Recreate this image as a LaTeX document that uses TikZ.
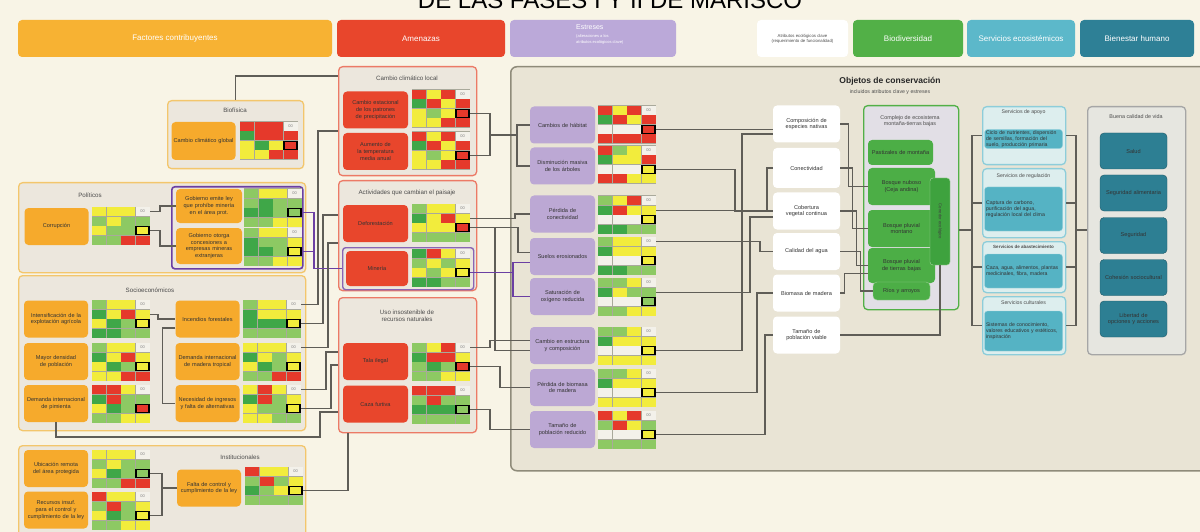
\documentclass[tikz,border=0pt]{standalone}
\usepackage{fontspec}
\setmainfont{Liberation Sans}
\usetikzlibrary{calc}
\hyphenpenalty=10000
\exhyphenpenalty=10000
\definecolor{bg}{HTML}{F8F4E6}
\definecolor{cfO}{HTML}{F7B233}
\definecolor{cfN}{HTML}{F6AA2C}
\definecolor{cfB}{HTML}{F3C66C}
\definecolor{grpF}{HTML}{ECE7DD}
\definecolor{amR}{HTML}{E8462C}
\definecolor{amB}{HTML}{EC7A66}
\definecolor{stL}{HTML}{BBA9D9}
\definecolor{stN}{HTML}{BCA8D4}
\definecolor{panF}{HTML}{E9E4D5}
\definecolor{panB}{HTML}{8F8B7A}
\definecolor{bdG}{HTML}{52B047}
\definecolor{bdN}{HTML}{4CAE46}
\definecolor{bdBar}{HTML}{3EA23E}
\definecolor{bdF}{HTML}{E2DFE6}
\definecolor{esB}{HTML}{5CB8CA}
\definecolor{esN}{HTML}{55B3C4}
\definecolor{esF}{HTML}{DDEEEE}
\definecolor{bhT}{HTML}{2E8096}
\definecolor{bhN}{HTML}{2D7F93}
\definecolor{bhF}{HTML}{E6E6E0}
\definecolor{gR}{HTML}{E5392B}
\definecolor{gY}{HTML}{F2EC3C}
\definecolor{gG}{HTML}{3FA748}
\definecolor{gL}{HTML}{8DC963}
\definecolor{gW}{HTML}{F3F1EA}
\definecolor{gS}{HTML}{A9A99B}
\definecolor{ln}{HTML}{5F5D57}
\definecolor{pu}{HTML}{6B3FA3}
\newcommand\mgrid[4]{%
  \fill[gS] (#2-0.5,#3-0.5) rectangle (#2+58,#3+38);
  \foreach \gc [count=\i from 0] in {#4}{%
    \pgfmathtruncatemacro\cc{mod(\i,4)}%
    \pgfmathtruncatemacro\rr{div(\i,4)}%
    \fill[\gc] ({#2+\cc*14.5},{#3+\rr*9.5}) rectangle ++(14,9);
  }
  \node[font=\fontsize{4}{4}\selectfont, text=gray, inner sep=0] at (#2+50.5,#3+4.5) {00};
  \draw[line width=1.5pt] (#2+44,#3+19.5) rectangle ++(13,8);
  \coordinate (#1-t) at (#2+58,#3+4.75);
  \coordinate (#1-m) at (#2+58,#3+14.25);
  \coordinate (#1-f) at (#2+58,#3+23.75);
  \node[inner sep=0, minimum width=58pt, minimum height=38pt, anchor=north west] (#1) at (#2,#3) {};
}
\tikzset{
  box/.style={rounded corners=4pt, align=center, inner sep=1pt, font=\fontsize{5.6}{6.6}\selectfont, text=black!80},
  cf/.style={box, fill=cfN, minimum width=64pt, minimum height=37pt, text width=60pt},
  am/.style={box, fill=amR, minimum width=65pt, minimum height=37pt, text width=60pt},
  stn/.style={box, fill=stN, minimum width=65pt, minimum height=37pt, text width=60pt},
  ka/.style={box, fill=white, minimum width=67pt, minimum height=37pt, text width=62pt},
  bio/.style={box, fill=bdN, minimum width=67pt, minimum height=36pt, text width=60pt},
  esn/.style={box, fill=esN, draw=esB!60, rounded corners=3pt, minimum width=78pt, text width=75pt, align=left, font=\fontsize{5.2}{6.1}\selectfont},
  bhn/.style={box, fill=bhN, draw=bhN!70!black, minimum width=67pt, minimum height=36pt, text width=62pt},
  hdr/.style={rounded corners=4pt, minimum height=37pt, text=white, font=\fontsize{8}{9}\selectfont, align=center},
  grp/.style={fill=grpF, line width=1.3pt, rounded corners=4pt, anchor=north west, inner sep=0},
  ttl/.style={font=\fontsize{6.2}{7.2}\selectfont, text=black!70, align=center, inner sep=0},
  conn/.style={draw=ln, line width=1.4pt},
  pconn/.style={draw=pu, line width=1.4pt},
}
\begin{document}
\begin{tikzpicture}[x=1pt,y=-1pt]
\useasboundingbox (0,0) rectangle (1200,532);
\fill[bg] (0,0) rectangle (1200,532);
\node[font=\fontsize{24}{24}\selectfont, anchor=base] (title) at (610,9) {DE LAS FASES I Y II DE MARISCO};

% headers
\node[hdr, fill=cfO, minimum width=314pt] (hCF) at (175,38.5) {Factores contribuyentes};
\node[hdr, fill=amR, minimum width=168pt] (hAM) at (421,38.5) {Amenazas};
\node[hdr, fill=stL, minimum width=166pt] (hES) at (593,38.5) {};
\node[anchor=north west, inner sep=0, text=white, align=left, font=\fontsize{7}{7}\selectfont] (hESt) at (576,24) {Estreses\\[1pt]{\fontsize{4}{4.5}\selectfont (alteraciones a los}\\[-1pt]{\fontsize{4}{4.5}\selectfont atributos ecológicos clave)}};
\node[hdr, fill=white, minimum width=91pt, text=black!70, font=\fontsize{4.3}{5}\selectfont] (hKA) at (802.5,38.5) {Atributos ecológicos clave\\(requerimiento de funcionalidad)};
\node[hdr, fill=bdG, minimum width=110pt] (hBD) at (908,38.5) {Biodiversidad};
\node[hdr, fill=esB, minimum width=108pt] (hSE) at (1021,38.5) {Servicios ecosistémicos};
\node[hdr, fill=bhT, minimum width=114pt] (hBH) at (1137,38.5) {Bienestar humano};

% conservation panel
\node[draw=panB, fill=panF, line width=1.5pt, rounded corners=6pt, anchor=north west, inner sep=0, minimum width=705pt, minimum height=404pt] (panel) at (510,66) {};
\node[font=\bfseries\fontsize{8.5}{8.5}\selectfont, text=black!85] (pT) at (890,81) {Objetos de conservación};
\node[font=\fontsize{5.2}{5.2}\selectfont, text=black!70] (pS) at (890,92) {incluidos atributos clave y estreses};

% ---------- contributing factors ----------
\node[grp, draw=cfB, minimum width=136pt, minimum height=68pt] (gpBio) at (167,100) {};
\node[ttl] (tBio) at (235,110) {Biofísica};
\node[cf, minimum height=38pt] (bio1) at (203.5,141) {Cambio climático global};
\mgrid{gBio}{240}{122}{gR,gR,gR,gW,gG,gR,gR,gR,gY,gG,gY,gR,gY,gY,gR,gR}

\node[grp, draw=cfB, minimum width=287pt, minimum height=90pt] (gpPol) at (18,182) {};
\node[ttl] (tPol) at (90,195) {Políticos};
\node[cf] (corr) at (56.5,226.5) {Corrupción};
\mgrid{gCorr}{92}{207}{gY,gY,gY,gW,gL,gY,gL,gL,gY,gL,gL,gY,gL,gL,gR,gR}
\node[draw=pu, fill=grpF, line width=1.6pt, rounded corners=3pt, anchor=north west, inner sep=0, minimum width=131pt, minimum height=82pt] (pbox) at (171,186) {};
\node[cf, minimum width=66pt, minimum height=34pt] (gob1) at (209,206) {Gobierno emite ley que prohíbe minería en el área prot.};
\node[cf, minimum width=66pt, minimum height=36pt] (gob2) at (209,246) {Gobierno otorga concesiones a empresas mineras extranjeras};
\mgrid{gGob1}{244}{189}{gL,gY,gY,gW,gL,gG,gL,gL,gG,gG,gL,gL,gL,gL,gY,gY}
\mgrid{gGob2}{244}{228}{gL,gY,gY,gW,gG,gL,gL,gY,gG,gG,gL,gY,gL,gL,gY,gY}

\node[grp, draw=cfB, minimum width=287pt, minimum height=155pt] (gpSoc) at (18,275) {};
\node[ttl] (tSoc) at (150,290) {Socioeconómicos};
\node[cf] (se1) at (56,319) {Intensificación de la explotación agrícola};
\node[cf] (se2) at (56,361.5) {Mayor densidad de población};
\node[cf] (se3) at (56,403.5) {Demanda internacional de pimienta};
\node[cf] (se4) at (207.5,319) {Incendios forestales};
\node[cf] (se5) at (207.5,361.5) {Demanda internacional de madera tropical};
\node[cf] (se6) at (207.5,403.5) {Necesidad de ingresos y falta de alternativas};
\mgrid{gSe1}{92}{300}{gL,gY,gY,gW,gG,gY,gR,gY,gY,gG,gL,gY,gG,gG,gL,gL}
\mgrid{gSe2}{92}{343}{gL,gY,gY,gW,gG,gY,gR,gY,gY,gG,gL,gY,gY,gY,gR,gR}
\mgrid{gSe3}{92}{385}{gR,gR,gY,gW,gG,gR,gL,gL,gY,gG,gL,gR,gL,gL,gY,gY}
\mgrid{gSe4}{243}{300}{gL,gY,gY,gW,gG,gY,gY,gY,gG,gG,gG,gY,gL,gL,gL,gL}
\mgrid{gSe5}{243}{343}{gY,gY,gY,gW,gG,gY,gL,gY,gY,gG,gL,gY,gL,gL,gR,gR}
\mgrid{gSe6}{243}{385}{gY,gR,gY,gW,gG,gR,gL,gY,gY,gL,gL,gY,gY,gY,gL,gL}

\node[grp, draw=cfB, minimum width=287pt, minimum height=100pt] (gpIns) at (18,445) {};
\node[ttl] (tIns) at (240,457) {Institucionales};
\node[cf] (in1) at (56,468.5) {Ubicación remota del área protegida};
\node[cf] (in2) at (56,510) {Recursos insuf. para el control y cumplimiento de la ley};
\node[cf] (in3) at (209,488) {Falta de control y cumplimiento de la ley};
\mgrid{gIn1}{92}{450}{gY,gY,gY,gW,gL,gY,gL,gL,gY,gG,gL,gL,gL,gL,gR,gR}
\mgrid{gIn2}{92}{492}{gR,gY,gY,gW,gL,gR,gL,gY,gY,gG,gL,gY,gL,gL,gY,gY}
\mgrid{gIn3}{245}{467}{gR,gY,gY,gW,gL,gR,gL,gY,gG,gL,gY,gY,gL,gL,gL,gL}

% ---------- threats ----------
\node[grp, draw=amB, minimum width=138pt, minimum height=109pt] (gpCCL) at (338,66) {};
\node[ttl] (tCCL) at (407,78) {Cambio climático local};
\node[am] (am1) at (375.5,110) {Cambio estacional de los patrones de precipitación};
\node[am] (am2) at (375.5,151.5) {Aumento de la temperatura media anual};
\mgrid{gAm1}{412}{90}{gR,gY,gR,gW,gG,gR,gY,gR,gY,gL,gY,gR,gY,gY,gR,gR}
\mgrid{gAm2}{412}{132}{gR,gY,gR,gW,gG,gR,gY,gR,gY,gL,gY,gR,gY,gY,gR,gR}

\node[grp, draw=amB, minimum width=138pt, minimum height=110pt] (gpAct) at (338,180) {};
\node[ttl] (tAct) at (407,193) {Actividades que cambian el paisaje};
\node[am] (am3) at (375.5,223.5) {Deforestación};
\mgrid{gAm3}{412}{204}{gL,gY,gY,gW,gG,gY,gR,gY,gY,gY,gY,gR,gL,gL,gL,gL}
\node[draw=pu!80, fill=grpF, line width=1.4pt, rounded corners=3pt, anchor=north west, inner sep=0, minimum width=131pt, minimum height=42pt] (mbox) at (342,247) {};
\node[am, minimum width=62pt, minimum height=35pt] (am4) at (377,268.5) {Minería};
\mgrid{gAm4}{412}{249}{gG,gR,gY,gW,gL,gY,gL,gY,gY,gL,gY,gY,gG,gG,gL,gL}

\node[grp, draw=amB, minimum width=138pt, minimum height=135pt] (gpUso) at (338,297) {};
\node[ttl] (tUso) at (407,316) {Uso insostenible de\\recursos naturales};
\node[am] (am5) at (375.5,361.5) {Tala ilegal};
\node[am] (am6) at (375.5,404) {Caza furtiva};
\mgrid{gAm5}{412}{343}{gL,gY,gR,gW,gG,gR,gR,gY,gL,gG,gL,gR,gL,gL,gY,gY}
\mgrid{gAm6}{412}{386}{gR,gR,gR,gW,gL,gR,gL,gL,gG,gG,gG,gL,gL,gL,gL,gL}

% ---------- stresses ----------
\node[stn] (s1) at (562.5,125) {Cambios de hábitat};
\node[stn] (s2) at (562.5,166) {Disminución masiva de los árboles};
\node[stn] (s3) at (562.5,214) {Pérdida de conectividad};
\node[stn] (s4) at (562.5,256.5) {Suelos erosionados};
\node[stn] (s5) at (562.5,296.5) {Saturación de oxígeno reducida};
\node[stn] (s6) at (562.5,345.5) {Cambio en estructura y composición};
\node[stn] (s7) at (562.5,387.5) {Pérdida de biomasa de madera};
\node[stn] (s8) at (562.5,429.5) {Tamaño de población reducido};
\mgrid{gS1}{598}{106}{gR,gY,gR,gW,gG,gR,gY,gR,gW,gW,gW,gR,gR,gR,gR,gR}
\mgrid{gS2}{598}{146}{gR,gL,gY,gW,gG,gY,gY,gR,gW,gW,gW,gY,gR,gR,gY,gY}
\mgrid{gS3}{598}{196}{gL,gY,gR,gW,gG,gR,gY,gY,gW,gW,gW,gY,gG,gG,gL,gL}
\mgrid{gS4}{598}{237}{gL,gY,gY,gW,gG,gY,gY,gY,gW,gW,gW,gY,gG,gG,gL,gL}
\mgrid{gS5}{598}{278}{gL,gL,gY,gW,gG,gY,gL,gL,gW,gW,gW,gL,gL,gL,gY,gY}
\mgrid{gS6}{598}{327}{gL,gL,gY,gW,gG,gY,gY,gY,gW,gW,gW,gY,gY,gY,gY,gY}
\mgrid{gS7}{598}{369}{gL,gL,gY,gW,gG,gY,gY,gY,gW,gW,gW,gY,gY,gY,gY,gY}
\mgrid{gS8}{598}{411}{gR,gY,gR,gW,gL,gR,gY,gL,gW,gW,gW,gY,gL,gL,gL,gL}

% ---------- key attributes ----------
\node[ka] (k1) at (806.5,124) {Composición de especies nativas};
\node[ka, minimum height=40pt] (k2) at (806.5,168) {Conectividad};
\node[ka] (k3) at (806.5,211) {Cobertura vegetal continua};
\node[ka] (k4) at (806.5,251.5) {Calidad del agua};
\node[ka] (k5) at (806.5,293) {Biomasa de madera};
\node[ka] (k6) at (806.5,335) {Tamaño de población viable};

% ---------- biodiversity ----------
\node[draw=bdG, fill=bdF, line width=1.3pt, rounded corners=4pt, anchor=north west, inner sep=0, minimum width=95pt, minimum height=204pt] (bio) at (863,105) {};
\node[ttl, font=\fontsize{5.4}{6.4}\selectfont] (tBd) at (910,121) {Complejo de ecosistema\\montaña-tierras bajas};
\node[bio, minimum width=65pt, minimum height=25pt] (b1) at (900.5,152.5) {Pastizales de montaña};
\node[bio, minimum height=37pt] (b2) at (901.5,186.5) {Bosque nuboso (Ceja andina)};
\node[bio, minimum height=37pt] (b3) at (901.5,228.5) {Bosque pluvial montano};
\node[bio, minimum height=35pt] (b4) at (901.5,265.5) {Bosque pluvial de tierras bajas};
\node[bio, draw=bdG!60, minimum width=57pt, minimum height=18pt, text width=54pt] (b5) at (901.5,291) {Ríos y arroyos};
\node[fill=bdBar, draw=bdG!50, rounded corners=3pt, minimum width=20pt, minimum height=87pt, inner sep=0] (bar) at (940,221.5) {};
\node[rotate=-90, font=\fontsize{4.2}{4.2}\selectfont, text=black!75] (barT) at (bar.center) {Corredor ecológico};

% ---------- ecosystem services ----------
\node[grp, draw=esB!70, fill=esF, minimum width=83pt, minimum height=58pt] (es1) at (982,106) {};
\node[ttl, font=\fontsize{5.2}{5.2}\selectfont] (tEs1) at (1023.5,112) {Servicios de apoyo};
\node[esn] (ei1) at (1023.5,139) {Ciclo de nutrientes, dispersión de semillas, formación del suelo, producción primaria};
\node[grp, draw=esB!70, fill=esF, minimum width=83pt, minimum height=69pt] (es2) at (982,168) {};
\node[ttl, font=\fontsize{5.2}{5.2}\selectfont] (tEs2) at (1023.5,176) {Servicios de regulación};
\node[esn, minimum height=44pt] (ei2) at (1023.5,209) {Captura de carbono, purificación del agua, regulación local del clima};
\node[grp, draw=esB!70, fill=esF, minimum width=83pt, minimum height=51pt] (es3) at (982,241) {};
\node[ttl, font=\bfseries\fontsize{4.5}{5}\selectfont] (tEs3) at (1023.5,247) {Servicios de abastecimiento};
\node[esn, minimum height=34pt] (ei3) at (1023.5,271) {Caza, agua, alimentos, plantas medicinales, fibra, madera};
\node[grp, draw=esB!70, fill=esF, minimum width=83pt, minimum height=58pt] (es4) at (982,296) {};
\node[ttl, font=\fontsize{5.2}{5.2}\selectfont] (tEs4) at (1023.5,303) {Servicios culturales};
\node[esn, minimum height=40pt] (ei4) at (1023.5,331) {Sistemas de conocimiento, valores educativos y estéticos, inspiración};

% ---------- human well-being ----------
\node[grp, draw=gray!70, fill=bhF, minimum width=98pt, minimum height=248pt] (bh) at (1087,106) {};
\node[ttl, font=\fontsize{5.4}{5.4}\selectfont] (tBh) at (1136,117) {Buena calidad de vida};
\node[bhn] (h1) at (1133.5,151) {Salud};
\node[bhn] (h2) at (1133.5,193) {Seguridad alimentaria};
\node[bhn] (h3) at (1133.5,235.5) {Seguridad};
\node[bhn] (h4) at (1133.5,277.5) {Cohesión sociocultural};
\node[bhn] (h5) at (1133.5,319) {Libertad de opciones y acciones};

% ---------- connectors: contributing factors -> threats ----------
\draw[conn] (gpBio.north) |- ($(gpCCL.north west)+(0,10)$);
\draw[conn] (gSe4-t) -- ++(17,0) |- ($(gpCCL.west)+(0,10)$);
\draw[conn] (gSe4-f) -- ++(22,0) |- ($(gpAct.north west)+(0,35)$);
\draw[conn] (gCorr-t) -- ++(10,0) |- (gob1.west);
\draw[conn] (gCorr-f) -- ++(10,0) |- (gob2.west);
\coordinate (pj) at (314,255);
\draw[pconn] (gGob1-f) -| (pj);
\draw[pconn] (gGob2-f) -| (pj);
\draw[pconn] (pj) |- (mbox.west);
\draw[conn] (gSe1-m) -- ++(8,0) |- (se4.west);
\draw[conn] ($(se4.west)+(0,9)$) -- ++(-13,0) |- (se6.west);
\coordinate (w1) at (320,437);
\coordinate (w2) at (320,412);
\draw[conn] (se3.south) |- (w1) -- (w2) -- (w2 -| gpUso.west);
\draw[conn] (gSe5-t) -- ++(27,0) |- ($(gpAct.north west)+(0,63)$);
\draw[conn] (gSe6-t) -- ++(25,0) |- ($(gpUso.north west)+(0,55)$);
\draw[conn] (gSe6-f) -- ++(30,0) |- ($(gpUso.north west)+(0,68)$);
\draw[conn] (gIn1-f) -- ++(12,0) |- (in3.west);
\draw[conn] (gIn2-f) -- ++(12,0) |- (in3.west);
\draw[conn] (gIn3-f) -| ($(gpUso.south west)+(10,0)$);

% ---------- threats -> stresses ----------
\coordinate (j1) at (490,135);
\coordinate (j2) at (517,135);
\draw[conn] (gAm1-f) -| (j1) -- (j2);
\draw[conn] (gAm2-f) -| (j1);
\draw[conn] (j2) |- (s1.west);
\draw[conn] (j2) |- (s2.west);
\draw[conn] (gAm3-m) -- ++(45,0) |- (s3.west);
\draw[conn] (gAm3-f) -- ++(25,0) |- ($(s6.west)+(0,5)$);
\draw[conn] (gAm3-f) -- ++(48,0) |- ($(s4.west)+(0,-4)$);
\draw[pconn] (gAm4-f) -- ++(43,0) |- (s5.west);
\draw[pconn] (gAm4-f) -- ++(43,0) |- ($(s4.west)+(0,6)$);
\draw[conn] (gAm5-t) -- ++(20,0) |- ($(s6.west)+(0,-5)$);
\draw[conn] (gAm5-f) -- ++(30,0) |- (s7.west);
\draw[conn] (gAm6-f) -- ++(20,0) |- (s8.west);

% ---------- stresses -> key attributes ----------
\draw[conn] (gS1-f) -- (gS1-f -| k1.west);
\draw[conn] (gS2-f) -- ++(79,0) |- (k3.west);
\draw[conn] (gS3-m) -- ++(111,0) |- (k2.west);
\draw[conn] (gS4-t) -- ++(104,0) |- (k4.west);
\draw[conn] (gS5-m) -- ++(94,0) |- ($(k3.west)+(0,6)$);
\draw[conn] (gS6-f) -- ++(86,0) |- ($(k1.west)+(0,10)$);
\draw[conn] (gS7-f) -- ++(101,0) |- (k5.west);
\draw[conn] (gS8-f) -- ++(109,0) |- (k6.west);

% ---------- key attributes -> biodiversity ----------
\draw[conn] (k1.east) -- ++(8,0) |- (b2.west);
\draw[conn] (k2.east) -- ++(12,0) |- (b3.west);
\draw[conn] (k3.east) -- ++(16,0) |- (b4.west);
\draw[conn] (k4.east) -- ++(20,0) |- (b5.west);
\draw[conn] (k5.east) -- ++(4,0) |- ($(b4.west)+(0,8)$);
\draw[conn] (k6.east) -| (bar.south);

% ---------- biodiversity -> services -> well-being ----------
\coordinate (j3) at (972,230);
\draw[conn] (bio.east |- j3) -- (j3);
\draw[conn] (j3) |- (es1.west);
\draw[conn] (j3) |- (es2.west);
\draw[conn] (j3) |- (es3.west);
\draw[conn] (j3) |- (es4.west);
\coordinate (j4) at (1076,230);
\draw[conn] (es1.east) -| (j4);
\draw[conn] (es2.east) -| (j4);
\draw[conn] (es3.east) -| (j4);
\draw[conn] (es4.east) -| (j4);
\draw[conn] (j4) -- (j4 -| bh.west);
\end{tikzpicture}
\end{document}
